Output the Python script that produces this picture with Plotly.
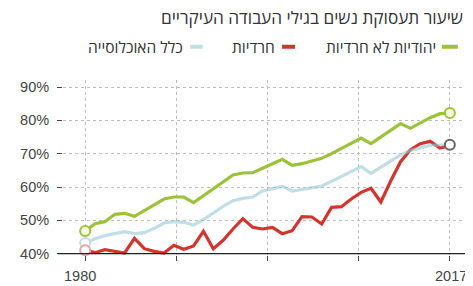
import numpy as np
import plotly.graph_objects as go

years = list(range(1980, 2018))

jewish_non_haredi = [46.8, 49.0, 49.6, 51.8, 52.1, 51.2, 52.9, 54.6, 56.4, 57.0,
                     57.0, 55.3, 57.4, 59.4, 61.5, 63.6, 64.2, 64.3, 65.6, 67.0,
                     68.3, 66.5, 67.0, 67.8, 68.6, 70.0, 71.6, 73.2, 74.7, 73.0,
                     75.0, 77.0, 79.0, 77.6, 79.2, 80.8, 82.0, 82.2]

haredi = [41.0, 40.3, 41.2, 40.7, 40.2, 44.6, 41.5, 40.7, 40.2, 42.5,
          41.3, 42.3, 46.7, 41.5, 44.0, 47.4, 50.5, 47.9, 47.4, 47.9,
          46.0, 46.9, 51.1, 51.0, 48.9, 53.9, 54.1, 56.4, 58.4, 59.6,
          55.5, 61.8, 67.6, 71.2, 73.0, 73.7, 71.7, 72.4]

total_population = [43.2, 44.5, 45.4, 45.9, 46.6, 46.0, 46.3, 47.6, 49.2, 49.6,
                    49.4, 48.6, 50.2, 52.2, 54.2, 55.9, 56.6, 57.0, 58.8, 59.5,
                    60.2, 58.8, 59.3, 59.8, 60.3, 61.7, 63.2, 64.6, 66.1, 64.1,
                    66.0, 67.8, 69.6, 71.0, 71.8, 72.5, 72.6, 72.7]

series_names = ["יהודיות לא חרדיות", "חרדיות", "כלל האוכלוסייה"]
chart_title = "שיעור תעסוקת נשים בגילי העבודה העיקריים"
y_tick_values = [40, 50, 60, 70, 80, 90]
y_tick_labels = ["40%", "50%", "60%", "70%", "80%", "90%"]
x_tick_labels = ["1980", "2017"]

GREEN = "#9cc23a"
RED = "#d2352e"
BLUE = "rgba(150,200,210,0.6)"
BLUE_SOLID = "#c2dfe3"
FONT = "Liberation Sans, Arial, sans-serif"
HEB_FONT = "Open Sans, Liberation Sans, Arial, sans-serif"
GRID = "#bdbdbd"

fig = go.Figure()

fig.add_trace(go.Scatter(x=years, y=jewish_non_haredi, mode="lines",
                         line=dict(color=GREEN, width=3.2), hoverinfo="skip"))
fig.add_trace(go.Scatter(x=years, y=haredi, mode="lines",
                         line=dict(color=RED, width=3.2), hoverinfo="skip"))
fig.add_trace(go.Scatter(x=years, y=total_population, mode="lines",
                         line=dict(color=BLUE, width=3.2), hoverinfo="skip"))

# endpoint circles
fig.add_trace(go.Scatter(x=[years[0], years[-1]], y=[jewish_non_haredi[0], jewish_non_haredi[-1]],
                         mode="markers", cliponaxis=False,
                         marker=dict(size=10, color="#f6f9e6", line=dict(color=GREEN, width=2))))
fig.add_trace(go.Scatter(x=[years[0]], y=[total_population[0]], mode="markers", cliponaxis=False,
                         marker=dict(size=10, color="white", line=dict(color=BLUE_SOLID, width=2))))
fig.add_trace(go.Scatter(x=[years[0]], y=[haredi[0]], mode="markers", cliponaxis=False,
                         marker=dict(size=10, color="white", line=dict(color="#e6a4a4", width=2))))
fig.add_trace(go.Scatter(x=[years[-1]], y=[total_population[-1]], mode="markers", cliponaxis=False,
                         marker=dict(size=10, color="white", line=dict(color="#666666", width=2))))

x_ticks = list(np.linspace(years[0], years[-1], 5))

# the page body has an 8px margin, so the figure is sized/offset to compensate
fig.update_layout(
    width=465, height=278,
    margin=dict(l=55, r=0, t=72, b=31),
    paper_bgcolor="white", plot_bgcolor="white",
    showlegend=False,
    font=dict(family=FONT, color="#444444", size=13),
    xaxis=dict(range=[1977.75, 2019.35], tickvals=x_ticks, showticklabels=False,
               showgrid=True, gridcolor=GRID, griddash="dot", gridwidth=1,
               ticks="outside", ticklen=5, tickcolor="#444444", showline=False,
               zeroline=False),
    yaxis=dict(range=[39.6, 92.1], tickvals=y_tick_values, ticktext=y_tick_labels,
               showgrid=True, gridcolor=GRID, griddash="dot", gridwidth=1,
               ticks="outside", ticklen=5, tickcolor="#444444", showline=False,
               zeroline=False, ticklabelstandoff=5,
               tickfont=dict(size=14.5, color="#444444")),
)

# baseline axis line at 40%
fig.add_shape(type="line", xref="paper", yref="y", x0=-0.013, x1=1, y0=40, y1=40,
              line=dict(color="#222222", width=1.3))

# x labels (first and last year)
for xv, lab, shift in [(years[0], x_tick_labels[0], -5), (years[-1], x_tick_labels[1], 1)]:
    fig.add_annotation(text=lab, xref="x", yref="paper", x=xv, y=0, yshift=-21, xshift=shift,
                       xanchor="center", yanchor="middle", showarrow=False,
                       font=dict(size=14.5, color="#444444", family=FONT))

# title
fig.add_annotation(text=chart_title, xref="paper", yref="paper", x=0.98, y=1.355,
                   xanchor="right", yanchor="middle", showarrow=False,
                   font=dict(size=17.2, color="#333333", family=HEB_FONT))

# manual RTL legend: swatch to the right of the text
legend_items = [
    (series_names[0], GREEN, 0.924, 0.963, 0.915),
    (series_names[1], RED, 0.534, 0.566, 0.522),
    (series_names[2], BLUE_SOLID, 0.310, 0.341, 0.298),
]
for name, color, s0, s1, tx in legend_items:
    fig.add_shape(type="line", xref="paper", yref="paper", x0=s0, x1=s1, y0=1.19, y1=1.19,
                  line=dict(color=color, width=4))
    fig.add_annotation(text=name, xref="paper", yref="paper", x=tx, y=1.19,
                       xanchor="right", yanchor="middle", showarrow=False,
                       font=dict(size=15.5, color="#333333", family=HEB_FONT))

fig.write_html("out.html")
